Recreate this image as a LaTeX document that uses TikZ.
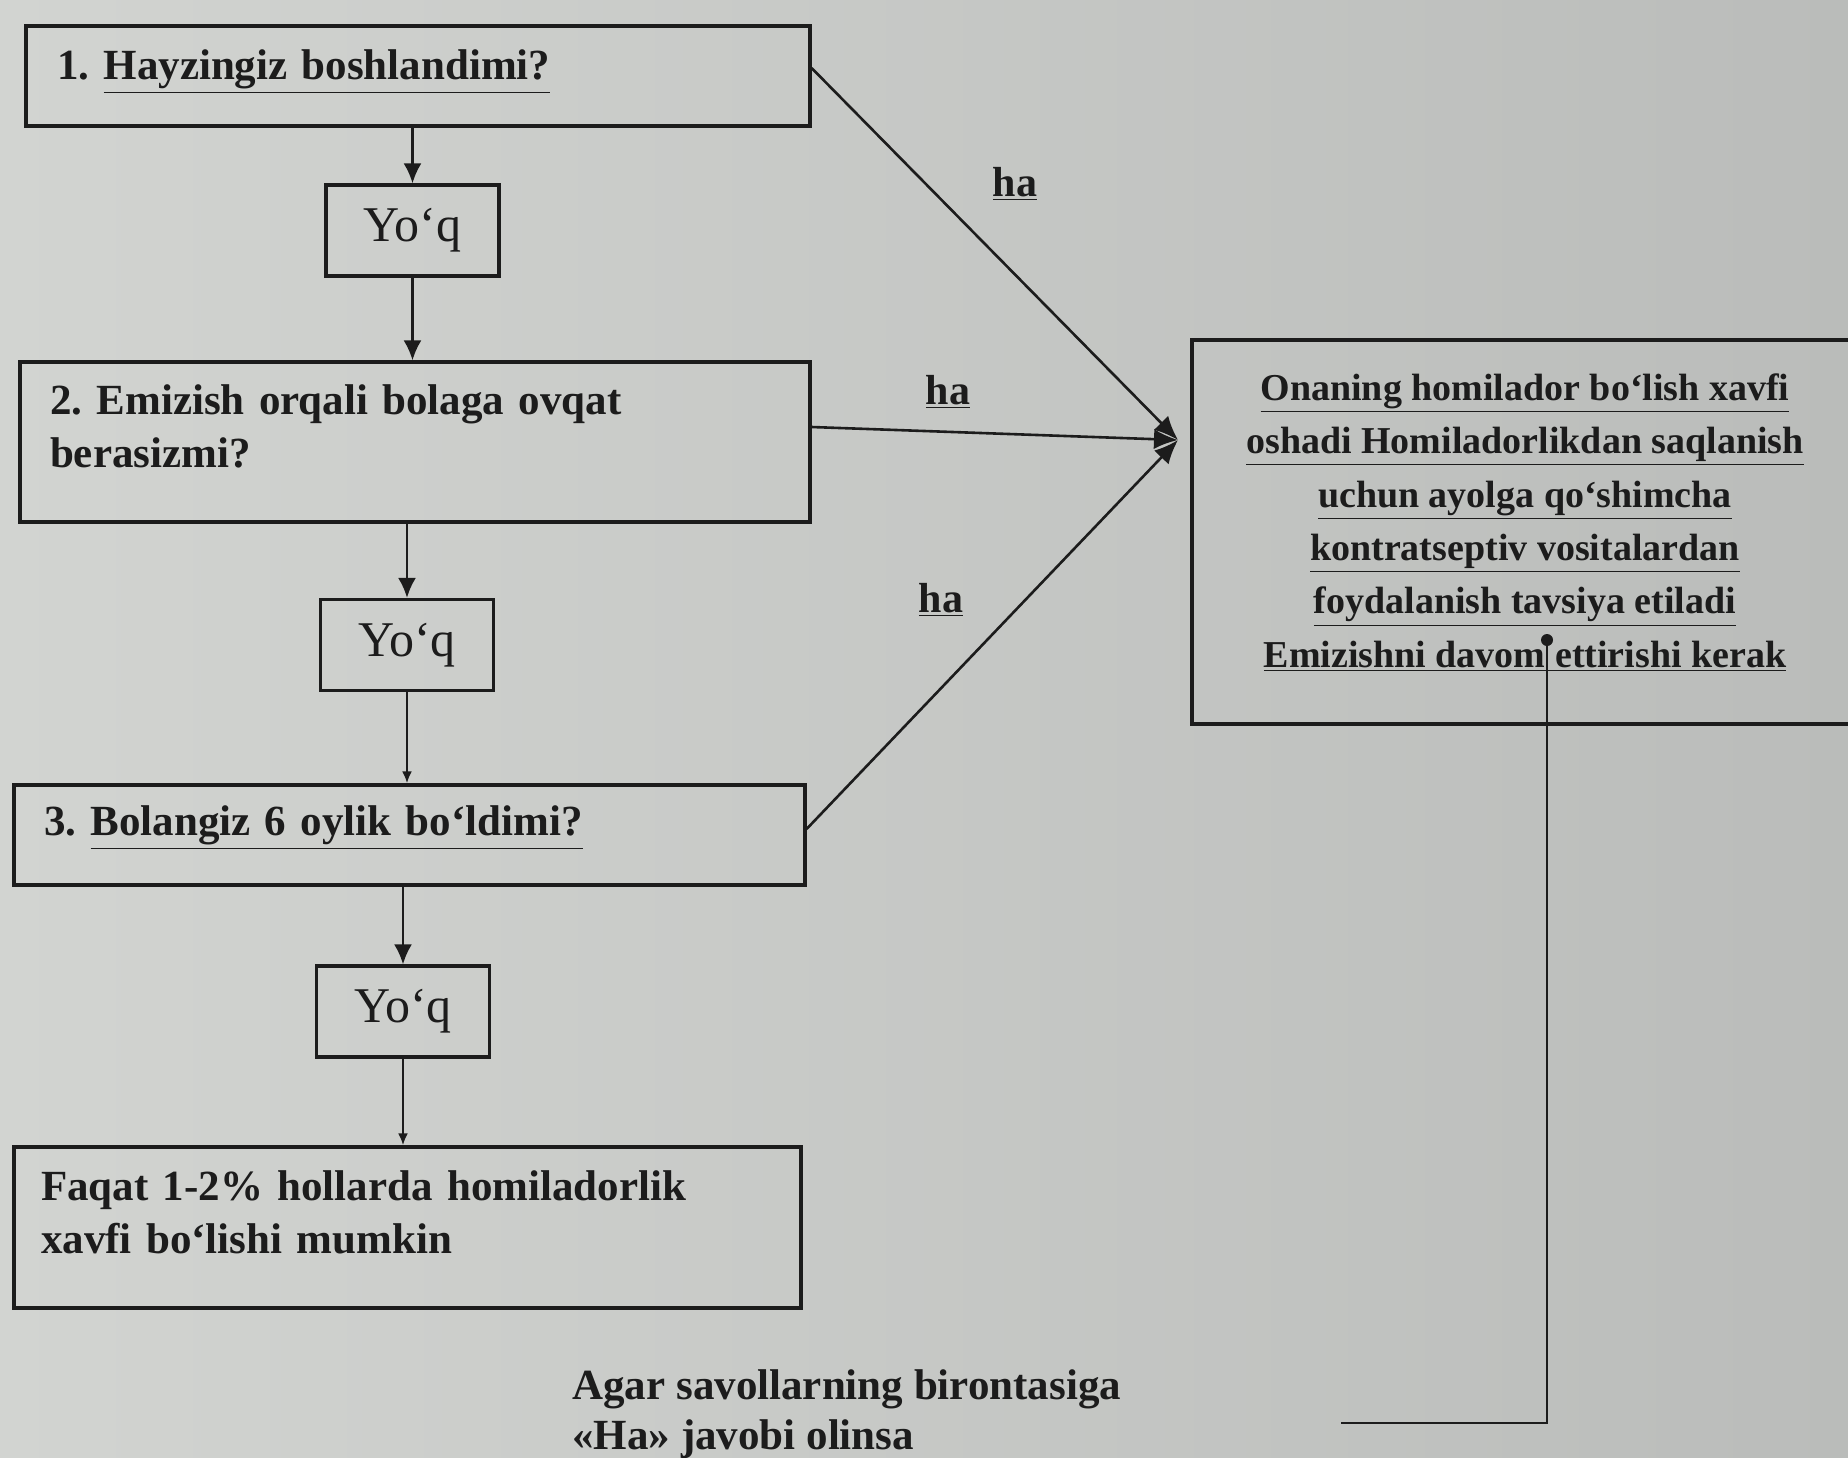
\documentclass[tikz,border=0pt]{standalone}
\usepackage{fontspec}
\setmainfont{Liberation Serif}
\usetikzlibrary{arrows.meta}
\definecolor{ink}{RGB}{28,28,28}
\definecolor{bgL}{RGB}{210,212,209}
\definecolor{bgR}{RGB}{186,188,186}
\frenchspacing
\begin{document}
\begin{tikzpicture}[x=0.5pt,y=-0.5pt,
  qbox/.style={draw=ink, line width=1.6pt, align=left, inner ysep=0pt, text=ink,
    font=\bfseries\fontsize{21.5}{26.5}\selectfont},
  nobox/.style={draw=ink, line width=1.6pt, minimum width=86.5pt, minimum height=45.5pt,
    inner sep=0pt, text=ink, font=\fontsize{25}{30}\selectfont},
  conn/.style={draw=ink, line width=1.3pt},
  arr/.style={conn, -{Latex[width=9pt,length=10pt]}},
  sarr/.style={conn, -{Latex[width=5pt,length=6pt]}},
  jarr/.style={conn, -{Latex[width=10pt,length=12pt]}},
  halbl/.style={font=\bfseries\fontsize{21}{25}\selectfont, text=ink, inner sep=0pt},
]
\useasboundingbox (0,0) rectangle (1848,1457);
\clip (0,0) rectangle (1848,1457);
\shade[left color=bgL, right color=bgR] (0,0) rectangle (1848,1457);

% question boxes
\node[qbox, text width=361pt, inner xsep=15.5pt, minimum height=50pt] (b1) at (418,76)
  {1. \underline{Hayzingiz boshlandimi?}\rule[-11pt]{0pt}{0pt}};
\node[nobox] (y1) at (412.5,230.5) {Yo‘q};
\node[qbox, text width=365pt, inner xsep=15pt, minimum height=80pt] (b2) at (415,442)
  {2. Emizish orqali bolaga ovqat\\ berasizmi?\rule[-15.5pt]{0pt}{0pt}};
\node[nobox] (y2) at (407,645) {Yo‘q};
\node[qbox, text width=365.5pt, inner xsep=15pt, minimum height=50pt] (b3) at (409.5,835)
  {3. \underline{Bolangiz 6 oylik bo‘ldimi?}\rule[-14pt]{0pt}{0pt}};
\node[nobox] (y3) at (403,1011.5) {Yo‘q};
\node[qbox, text width=366.5pt, inner xsep=13.5pt, minimum height=80.5pt] (b4) at (407.5,1227.5)
  {Faqat 1-2\% hollarda homiladorlik\\ xavfi bo‘lishi mumkin\rule[-15pt]{0pt}{0pt}};

% result box
\node[draw=ink, line width=1.6pt, align=center, minimum width=333pt, minimum height=192pt,
  inner sep=0pt, text=ink, font=\bfseries\fontsize{19}{26.7}\selectfont] (rb) at (1525,532)
  {\underline{Onaning homilador bo‘lish xavfi}\\
   \underline{oshadi Homiladorlikdan saqlanish}\\
   \underline{uchun ayolga qo‘shimcha}\\
   \underline{kontratseptiv vositalardan}\\
   \underline{foydalanish tavsiya etiladi}\\
   \underline{Emizishni davom ettirishi kerak}\rule[-11.5pt]{0pt}{0pt}};

% labels
\node[halbl] (h1) at (1015,184) {\underline{ha}};
\node[halbl] (h2) at (948,392) {\underline{ha}};
\node[halbl] (h3) at (941,600) {\underline{ha}};
\node[anchor=north west, inner sep=0pt, align=left, text=ink,
  font=\bfseries\fontsize{21.5}{25}\selectfont] (ag) at (572,1369)
  {Agar savollarning birontasiga\\«Ha» javobi olinsa};

% vertical flow
\draw[arr] (b1.south -| y1) -- (y1.north);
\draw[arr] (y1.south) -- (y1.south |- b2.north);
\draw[arr] (b2.south -| y2) -- (y2.north);
\draw[sarr] (y2.south) -- (y2.south |- b3.north);
\draw[arr] (b3.south -| y3) -- (y3.north);
\draw[sarr] (y3.south) -- (y3.south |- b4.north);

% "ha" connectors
\coordinate (J) at (1178,440);
\draw[jarr] ([yshift=4pt]b1.east) -- (J);
\draw[jarr] ([yshift=7.5pt]b2.east) -- (J);
\draw[jarr] ([yshift=3pt]b3.east) -- (J);

% note connector
\coordinate (dt) at (1547,640);
\coordinate (le) at (1341,1423);
\fill[ink] (dt) circle (3pt);
\draw[conn] (dt) |- (le);
\end{tikzpicture}
\end{document}
